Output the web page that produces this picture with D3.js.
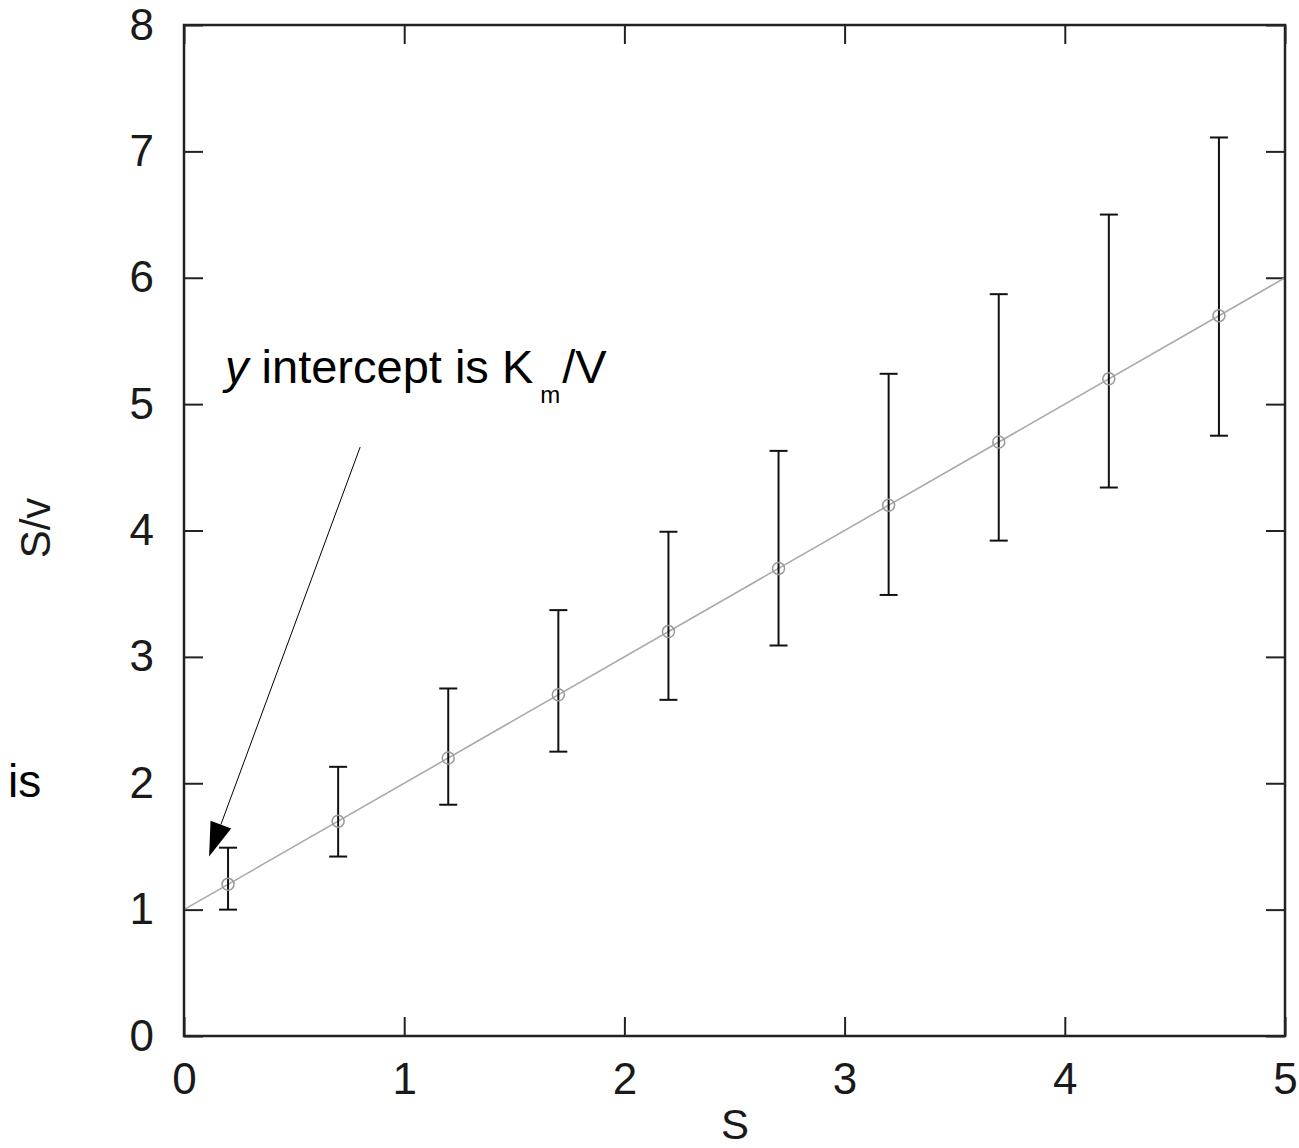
<!DOCTYPE html>
<html>
<head>
<meta charset="utf-8">
<script src="https://cdn.jsdelivr.net/npm/d3@7"></script>
<style>
  body { margin: 0; background: #fff; }
  svg { display: block; }
  text { font-family: "Liberation Sans", Arial, sans-serif; }
</style>
</head>
<body>
<script>
// substrate concentration S and S/v
const sVals = [0.2, 0.7, 1.2, 1.7, 2.2, 2.7, 3.2, 3.7, 4.2, 4.7];
const ratio = [1.2, 1.7, 2.2, 2.7, 3.2, 3.7, 4.2, 4.7, 5.2, 5.7];
const errHi = [1.49, 2.13, 2.75, 3.37, 3.99, 4.63, 5.24, 5.87, 6.50, 7.11];
const errLo = [1.0, 1.42, 1.83, 2.25, 2.66, 3.09, 3.49, 3.92, 4.34, 4.75];
const fitLine = [[0, 1], [5, 6]];
const xTicks = [0, 1, 2, 3, 4, 5];
const yTicks = [0, 1, 2, 3, 4, 5, 6, 7, 8];
// arrow from label to intercept, in data units
const arrowFrom = [0.80, 4.66];
const arrowTo = [0.114, 1.42];

const width = 1299;
const height = 1148;
const mLeft = 184, mRight = 1285, mTop = 25, mBottom = 1036;

const x = d3.scaleLinear().domain([0, 5]).range([mLeft, mRight]);
const y = d3.scaleLinear().domain([0, 8]).range([mBottom, mTop]);

const svg = d3.select('body')
  .append('svg')
  .attr('width', width)
  .attr('height', height);

const data = sVals.map((s, i) => ({ s, r: ratio[i], hi: errHi[i], lo: errLo[i] }));

// axes with inward ticks
function styleAxis(g) {
  g.select('.domain').remove();
  g.selectAll('.tick line').attr('stroke', '#222').attr('stroke-width', 2);
  g.selectAll('.tick text').attr('font-size', 44).attr('fill', '#1a1a1a')
    .attr('font-family', '"Liberation Sans", Arial, sans-serif');
}

svg.append('g')
  .attr('transform', `translate(0, ${mBottom})`)
  .call(d3.axisBottom(x).tickValues(xTicks).tickFormat(d3.format('d')).tickSize(-19).tickPadding(27))
  .call(styleAxis);

svg.append('g')
  .attr('transform', `translate(0, ${mTop})`)
  .call(d3.axisTop(x).tickValues(xTicks).tickFormat('').tickSize(-19))
  .call(styleAxis);

svg.append('g')
  .attr('transform', `translate(${mLeft}, 0)`)
  .call(d3.axisLeft(y).tickValues(yTicks).tickFormat(d3.format('d')).tickSize(-19).tickPadding(30))
  .call(styleAxis);

svg.append('g')
  .attr('transform', `translate(${mRight}, 0)`)
  .call(d3.axisRight(y).tickValues(yTicks).tickFormat('').tickSize(-19))
  .call(styleAxis);

// fit line
svg.append('path')
  .datum(fitLine)
  .attr('d', d3.line().x(d => x(d[0])).y(d => y(d[1])))
  .attr('fill', 'none')
  .attr('stroke', '#aaa')
  .attr('stroke-width', 1.6);

// error bars
const bars = svg.append('g').attr('stroke', '#111').attr('stroke-width', 2);
bars.selectAll('line.v')
  .data(data).enter().append('line')
  .attr('x1', d => x(d.s)).attr('x2', d => x(d.s))
  .attr('y1', d => y(d.lo)).attr('y2', d => y(d.hi));
bars.selectAll('line.hi')
  .data(data).enter().append('line')
  .attr('x1', d => x(d.s) - 9).attr('x2', d => x(d.s) + 9)
  .attr('y1', d => y(d.hi)).attr('y2', d => y(d.hi));
bars.selectAll('line.lo')
  .data(data).enter().append('line')
  .attr('x1', d => x(d.s) - 9).attr('x2', d => x(d.s) + 9)
  .attr('y1', d => y(d.lo)).attr('y2', d => y(d.lo));

// point markers
svg.selectAll('circle.pt')
  .data(data).enter().append('circle')
  .attr('cx', d => x(d.s))
  .attr('cy', d => y(d.r))
  .attr('r', 6)
  .attr('fill', 'none')
  .attr('stroke', '#999')
  .attr('stroke-width', 1.5);

// frame
svg.append('rect')
  .attr('x', mLeft).attr('y', mTop)
  .attr('width', mRight - mLeft).attr('height', mBottom - mTop)
  .attr('fill', 'none')
  .attr('stroke', '#222')
  .attr('stroke-width', 2.5);

// axis titles
svg.append('text')
  .attr('x', 735).attr('y', 1139)
  .attr('text-anchor', 'middle')
  .attr('font-size', 42)
  .attr('fill', '#1a1a1a')
  .text('S');

svg.append('text')
  .attr('transform', 'translate(50, 528) rotate(-90)')
  .attr('text-anchor', 'middle')
  .attr('font-size', 42)
  .attr('fill', '#1a1a1a')
  .text('S/v');

svg.append('text')
  .attr('x', 8).attr('y', 797)
  .attr('font-size', 46)
  .attr('fill', '#000')
  .text('is');

// annotation
const note = svg.append('text')
  .attr('x', 225).attr('y', 383)
  .attr('font-size', 47)
  .attr('fill', '#000');
note.append('tspan').attr('font-style', 'italic').text('y');
note.append('tspan').text(' intercept is K');
note.append('tspan').attr('font-size', 24).attr('dx', 7).attr('dy', 20).text('m');
note.append('tspan').attr('dx', 2).attr('dy', -20).text('/V');

const p0 = [x(arrowFrom[0]), y(arrowFrom[1])];
const p1 = [x(arrowTo[0]), y(arrowTo[1])];
const len = Math.hypot(p1[0] - p0[0], p1[1] - p0[1]);
const ux = (p1[0] - p0[0]) / len, uy = (p1[1] - p0[1]) / len;
const headLen = 34, headHalf = 11;
const bx = p1[0] - ux * headLen, by = p1[1] - uy * headLen;

svg.append('line')
  .attr('x1', p0[0]).attr('y1', p0[1])
  .attr('x2', bx).attr('y2', by)
  .attr('stroke', '#000')
  .attr('stroke-width', 1);

svg.append('polygon')
  .attr('points', [
    p1,
    [bx - uy * headHalf, by + ux * headHalf],
    [bx + uy * headHalf, by - ux * headHalf]
  ].map(p => p.join(',')).join(' '))
  .attr('fill', '#000');
</script>
</body>
</html>
